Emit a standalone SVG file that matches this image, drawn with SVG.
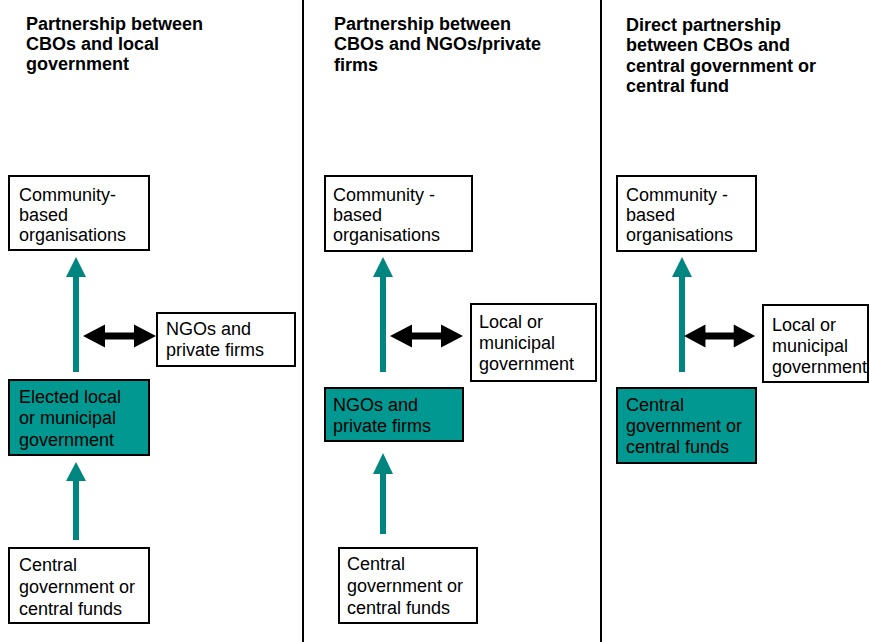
<svg xmlns="http://www.w3.org/2000/svg" width="870" height="642" viewBox="0 0 870 642">
<style>
.t{font-family:"Liberation Sans",Arial,sans-serif;font-size:18px;fill:#000}
.h{font-family:"Liberation Sans",Arial,sans-serif;font-size:18px;font-weight:bold;fill:#000}
.bw{fill:#fff;stroke:#000;stroke-width:2}
.bt{fill:#009891;stroke:#000;stroke-width:2}
.div{stroke:#000;stroke-width:2}
.up{fill:#008580}
.dbl{fill:#000}
</style>
<defs>
<path id="dbl" d="M0,0 L22,-11.5 L22,-3.5 L51,-3.5 L51,-11.5 L73,0 L51,11.5 L51,3.5 L22,3.5 L22,11.5 Z"/>
</defs>
<rect width="870" height="642" fill="#fff"/>
<g id="dividers">
<line class="div" x1="303" y1="0" x2="303" y2="642"/>
<line class="div" x1="601" y1="0" x2="601" y2="642"/>
</g>
<g id="titles">
<text class="h" x="26" y="30">Partnership between</text>
<text class="h" x="26" y="50">CBOs and local</text>
<text class="h" x="26" y="70">government</text>
<text class="h" x="334" y="30">Partnership between</text>
<text class="h" x="334" y="50">CBOs and NGOs/private</text>
<text class="h" x="334" y="71">firms</text>
<text class="h" x="626" y="30.5">Direct partnership</text>
<text class="h" x="626" y="51">between CBOs and</text>
<text class="h" x="626" y="71.5">central government or</text>
<text class="h" x="626" y="92">central fund</text>
</g>
<g id="connectors">
<path class="up" d="M76,257 L86,277 L79,277 L79,372 L73,372 L73,277 L66,277 Z"/>
<path class="up" d="M76,462 L86,481 L79,481 L79,540 L73,540 L73,481 L66,481 Z"/>
<use href="#dbl" x="83" y="336"/>
<path class="up" d="M383,257 L393,277 L386,277 L386,372 L380,372 L380,277 L373,277 Z"/>
<path class="up" d="M383,453 L393,474 L386,474 L386,534 L380,534 L380,474 L373,474 Z"/>
<use href="#dbl" x="390" y="336"/>
<path class="up" d="M682,257 L692,277 L685,277 L685,372 L679,372 L679,277 L672,277 Z"/>
<use href="#dbl" x="684" y="336" transform="translate(684,336) scale(0.975,1) translate(-684,-336)"/>
</g>
<g id="p1-cbo">
<rect class="bw" x="9" y="176" width="140" height="74"/>
<text class="t" x="19" y="201">Community-</text>
<text class="t" x="19" y="221">based</text>
<text class="t" x="19" y="241">organisations</text>
</g>
<g id="p1-ngo">
<rect class="bw" x="157" y="313" width="138" height="53"/>
<text class="t" x="166" y="335">NGOs and</text>
<text class="t" x="166" y="356">private firms</text>
</g>
<g id="p1-elected">
<rect class="bt" x="9" y="380" width="140" height="75"/>
<text class="t" x="19" y="403">Elected local</text>
<text class="t" x="19" y="424">or municipal</text>
<text class="t" x="19" y="446">government</text>
</g>
<g id="p1-central">
<rect class="bw" x="9" y="548" width="140" height="75"/>
<text class="t" x="19" y="571">Central</text>
<text class="t" x="19" y="593">government or</text>
<text class="t" x="19" y="615">central funds</text>
</g>
<g id="p2-cbo">
<rect class="bw" x="325" y="176" width="147" height="75"/>
<text class="t" x="333" y="201">Community -</text>
<text class="t" x="333" y="221">based</text>
<text class="t" x="333" y="241">organisations</text>
</g>
<g id="p2-local">
<rect class="bw" x="471" y="304" width="125" height="77"/>
<text class="t" x="479" y="328">Local or</text>
<text class="t" x="479" y="349">municipal</text>
<text class="t" x="479" y="370">government</text>
</g>
<g id="p2-ngo">
<rect class="bt" x="325" y="388" width="138" height="53"/>
<text class="t" x="333" y="411">NGOs and</text>
<text class="t" x="333" y="432">private firms</text>
</g>
<g id="p2-central">
<rect class="bw" x="339" y="548" width="138" height="75"/>
<text class="t" x="347" y="570">Central</text>
<text class="t" x="347" y="592">government or</text>
<text class="t" x="347" y="614">central funds</text>
</g>
<g id="p3-cbo">
<rect class="bw" x="617" y="176" width="139" height="75"/>
<text class="t" x="626" y="201">Community -</text>
<text class="t" x="626" y="221">based</text>
<text class="t" x="626" y="241">organisations</text>
</g>
<g id="p3-local">
<rect class="bw" x="763" y="305" width="105" height="77"/>
<text class="t" x="772" y="331">Local or</text>
<text class="t" x="772" y="352">municipal</text>
<text class="t" x="772" y="373">government</text>
</g>
<g id="p3-central">
<rect class="bt" x="617" y="388" width="139" height="75"/>
<text class="t" x="626" y="411">Central</text>
<text class="t" x="626" y="432">government or</text>
<text class="t" x="626" y="453">central funds</text>
</g>
</svg>
